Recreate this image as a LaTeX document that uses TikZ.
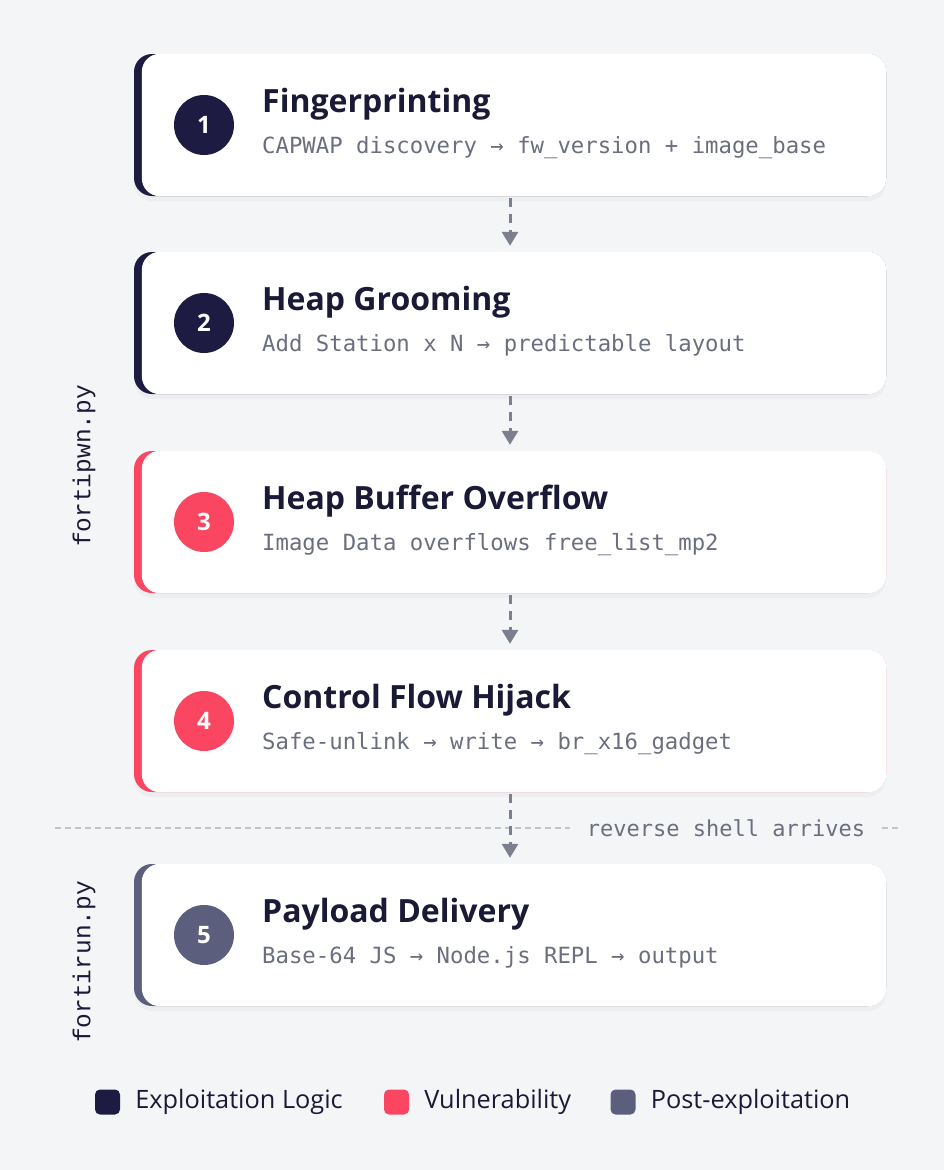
\documentclass[tikz,border=0pt]{standalone}
\usepackage{fontspec}
\setmainfont{Open Sans}
\newfontfamily\codefont{DejaVu Sans Mono}
\newfontfamily\filefont{Liberation Mono}
\usetikzlibrary{arrows.meta,shadows,positioning}

\definecolor{bg}{HTML}{F4F5F7}
\definecolor{navy}{HTML}{1E1B42}
\definecolor{vuln}{HTML}{FB4662}
\definecolor{slate}{HTML}{5B5F7D}
\definecolor{ink}{HTML}{1A1A36}
\definecolor{dim}{HTML}{6B6E7E}
\definecolor{arrowgray}{HTML}{7C7F8E}
\definecolor{rulegray}{HTML}{BFC3CA}

\tikzset{
  card/.style={rounded corners=18pt, minimum width=752pt, minimum height=142pt, inner sep=0pt,
    drop shadow={shadow xshift=0pt, shadow yshift=-5pt, opacity=0.06}},
  badge/.style={circle, minimum size=60pt, inner sep=0pt, text=white,
    font=\fontsize{24}{24}\selectfont\bfseries},
  steptitle/.style={anchor=base west, inner sep=0pt, text=ink,
    font=\fontsize{32}{36}\selectfont\bfseries},
  stepdetail/.style={anchor=base west, inner sep=0pt, text=dim,
    font=\codefont\fontsize{22.3}{24}\selectfont},
  flow/.style={draw=arrowgray, line width=3pt, dash pattern=on 9pt off 7pt,
    -{Triangle[width=16pt,length=14pt]}, shorten <=2pt, shorten >=6pt},
  divider/.style={draw=rulegray, line width=1.3pt, dash pattern=on 6pt off 4pt},
  shellnote/.style={inner xsep=17pt, inner ysep=2pt, text=dim,
    font=\codefont\fontsize{22}{24}\selectfont},
  filelabel/.style={rotate=90, inner sep=0pt, text=ink,
    font=\filefont\fontsize{24.5}{26}\selectfont},
  swatch/.style={rounded corners=5pt, minimum size=25pt, inner sep=0pt},
  keytext/.style={inner sep=0pt, text=ink, font=\fontsize{25.3}{28}\selectfont}
}

\begin{document}
\begin{tikzpicture}[x=1pt, y=-1pt]
    \fill[bg] (0,0) rectangle (944,1170);
    \useasboundingbox (0,0) rectangle (944,1170);

    % steps
    \foreach \i/\y/\col/\head/\body in {
        1/125/navy/Fingerprinting/CAPWAP discovery → fw\_version + image\_base,
        2/323/navy/Heap Grooming/Add Station x N → predictable layout,
        3/522/vuln/Heap Buffer Overflow/Image Data overflows free\_list\_mp2,
        4/721/vuln/Control Flow Hijack/Safe-unlink → write → br\_x16\_gadget,
        5/935/slate/Payload Delivery/Base-64 JS → Node.js REPL → output}
    {
        \node[card, fill=\col] (s\i) at (510,\y) {};
        \fill[white, rounded corners=18pt] ([xshift=8pt]s\i.south west) rectangle (s\i.north east);
        \node[badge, fill=\col] (n\i) at (204,\y) {\i};
        \node[steptitle] (t\i) at (262,\y-13) {\head};
        \node[stepdetail] (d\i) at (262,\y+28) {\body};
    }

    % boundary between the two scripts
    \node[shellnote] (shell) at (726,828) {reverse shell arrives};
    \coordinate (divL) at (55,828);
    \coordinate (divR) at (900,828);
    \draw[divider] (divL) -- (shell.west);
    \draw[divider] (shell.east) -- (divR);

    \foreach \a/\b in {1/2,2/3,3/4,4/5}
        \draw[flow] (s\a.south) -- (s\b.north);

    \node[filelabel] (pwn) at (84,466) {fortipwn.py};
    \node[filelabel] (run) at (84,962) {fortirun.py};

    % legend
    \node[swatch, fill=navy] (k1) at (107.5,1102) {};
    \node[keytext, right=15pt of k1] (l1) {Exploitation Logic};
    \node[swatch, fill=vuln] (k2) at (396.5,1102) {};
    \node[keytext, right=15pt of k2] (l2) {Vulnerability};
    \node[swatch, fill=slate] (k3) at (623,1102) {};
    \node[keytext, right=15pt of k3] (l3) {Post-exploitation};
\end{tikzpicture}
\end{document}
